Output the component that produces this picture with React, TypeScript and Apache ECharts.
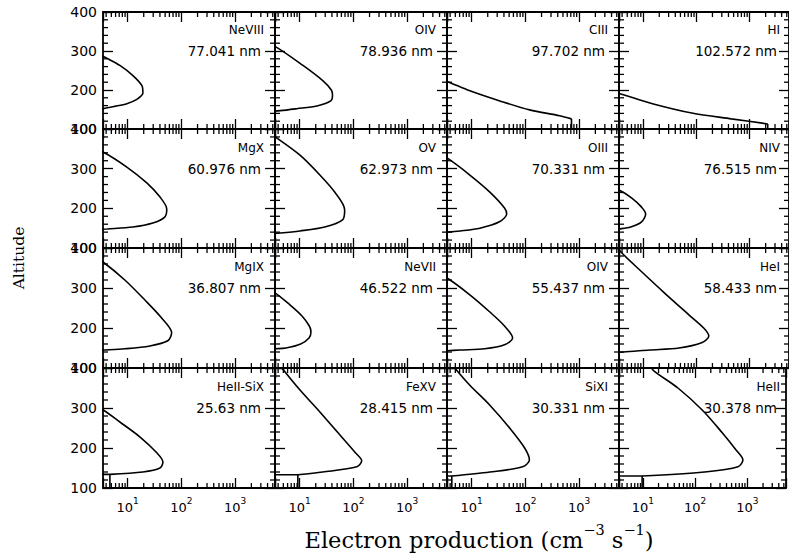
import React, { useEffect, useRef } from 'react';
import * as echarts from 'echarts';

// ---------- data ----------
const ionNames = [
  'NeVIII', 'OIV', 'CIII', 'HI',
  'MgX', 'OV', 'OIII', 'NIV',
  'MgIX', 'NeVII', 'OIV', 'HeI',
  'HeII-SiX', 'FeXV', 'SiXI', 'HeII',
];
const wavelengths = [
  '77.041 nm', '78.936 nm', '97.702 nm', '102.572 nm',
  '60.976 nm', '62.973 nm', '70.331 nm', '76.515 nm',
  '36.807 nm', '46.522 nm', '55.437 nm', '58.433 nm',
  '25.63 nm', '28.415 nm', '30.331 nm', '30.378 nm',
];

// [electron production, altitude] (top to bottom)
const neVIII_77041 = [[2.5, 289], [3.5, 286], [4.2, 281], [7.2, 263], [12.6, 237], [18.5, 211], [19.3, 192], [14.9, 176], [9.7, 165], [5.8, 158], [3.5, 152], [2.5, 150]];
const oIV_78936 = [[2.5, 316], [3.5, 312], [11.6, 263], [27, 224], [39, 200], [41, 187], [38, 172], [21, 159], [8.9, 152], [4.4, 147], [2.5, 145]];
const cIII_97702 = [[2.5, 228], [3.5, 222], [9.3, 198], [33.6, 172], [120, 149], [434, 134], [720, 126]];
const hI_102572 = [[2.5, 195], [3.5, 191], [14.9, 165], [82, 141], [452, 126], [2190, 113]];
const mgX_60976 = [[2.5, 346], [3.5, 342], [9.7, 304], [22.8, 264], [39.8, 229], [53.6, 198], [49, 178], [29.5, 163], [12.6, 153], [4.2, 148], [2.5, 146]];
const oV_62973 = [[2.5, 392], [3.8, 377], [10.2, 334], [23.9, 284], [45, 241], [69, 196], [63, 171], [29.4, 153], [10.2, 143], [4.4, 138], [2.5, 136]];
const oIII_70331 = [[2.5, 335], [3.5, 327], [9.3, 284], [21.9, 241], [41, 201], [45, 186], [33, 166], [14.3, 150], [6.1, 143], [3.5, 140], [2.5, 139]];
const nIV_76515 = [[2.5, 252], [3.5, 246], [6.1, 226], [9.3, 203], [11.1, 186], [9.3, 166], [5.8, 153], [3.5, 148], [2.5, 146]];
const mgIX_36807 = [[2.5, 375], [3.5, 365], [8.9, 320], [21, 270], [43, 225], [66, 188], [56, 168], [26, 155], [8.9, 148], [3.5, 145], [2.5, 144]];
const neVII_46522 = [[2.5, 295], [3.5, 288], [6.6, 258], [11.1, 230], [15.2, 205], [16.3, 190], [15, 175], [10.5, 160], [5.6, 150], [3.5, 148], [2.5, 147]];
const oIV_55437 = [[2.5, 330], [3.5, 325], [9.3, 283], [21.9, 240], [41, 205], [58, 175], [41, 158], [17.6, 148], [6.1, 145], [3.5, 143], [2.5, 142]];
const heI_58433 = [[3.2, 405], [3.8, 390], [8.6, 345], [24.9, 288], [72, 233], [137, 200], [171, 180], [125, 163], [47, 150], [13.2, 145], [4.2, 140], [2.5, 139]];
const heIISiX_2563 = [[2.5, 300], [3.5, 295], [7.2, 265], [16.9, 228], [35, 188], [45.5, 165], [40, 150], [19.3, 140], [4.7, 134]];
const feXV_28415 = [[4.5, 405], [4.9, 397], [10.2, 345], [23.9, 290], [55.8, 233], [106, 190], [143, 168], [116, 153], [27, 140], [9.3, 133]];
const siXI_30331 = [[4.7, 405], [5.1, 397], [9.3, 357], [21.9, 307], [51, 250], [97, 200], [119, 170], [88.6, 153], [21.9, 140], [4.3, 130]];
const heII_30378 = [[14, 405], [16.2, 393], [47, 350], [137, 295], [322, 240], [609, 195], [823, 170], [663, 153], [150, 140], [9.7, 130]];

// low-altitude floor segments seen in some panels
const cIII_floor = [[720, 126], [720, 95]];
const hI_floor = [[2190, 113], [2190, 95]];
const heIISiX_floor = [[2, 134], [4.7, 134], [4.7, 95]];
const feXV_floor = [[2, 133], [9.3, 133], [9.3, 95]];
const siXI_floor = [[2, 130], [4.3, 130], [4.3, 95]];
const heII_floor = [[2, 130], [9.7, 130], [9.7, 95]];

const profiles = [
  neVIII_77041, oIV_78936, cIII_97702, hI_102572,
  mgX_60976, oV_62973, oIII_70331, nIV_76515,
  mgIX_36807, neVII_46522, oIV_55437, heI_58433,
  heIISiX_2563, feXV_28415, siXI_30331, heII_30378,
];
const floors: (number[][] | null)[] = [
  null, null, cIII_floor, hI_floor,
  null, null, null, null,
  null, null, null, null,
  heIISiX_floor, feXV_floor, siXI_floor, heII_floor,
];

const X_MIN = 3.5;
const X_MAX = 5500;
const ALT_MIN = 100;
const ALT_MAX = 400;
const ALT_STEP = 100;
const ALT_MINOR_STEP = 20;
const minorMultipliers = [2, 3, 4, 5, 6, 7, 8, 9];
const decades = [1, 10, 100, 1000];

// ---------- layout ----------
const colLefts = [103, 275, 447, 619];
const colWidth = 172;
const rowTops = [12, 129, 248, 368];
const rowHeights = [117, 119, 120, 120];
const MAJOR_LEN = 10;
const MINOR_LEN = 5;

const xMinorTicks: number[] = [];
decades.forEach((d) => minorMultipliers.forEach((m) => {
  const v = d * m;
  if (v > X_MIN && v < X_MAX) xMinorTicks.push(v);
}));
const yMinorTicks: number[] = [];
for (let a = ALT_MIN + ALT_MINOR_STEP; a < ALT_MAX; a += ALT_MINOR_STEP) {
  if (a % ALT_STEP !== 0) yMinorTicks.push(a);
}

const black = '#000';
const axisLineStyle = { color: black, width: 1.8 };
const tickLineStyle = { color: black, width: 1.3 };

function buildOption() {
  const grid: any[] = [];
  const xAxis: any[] = [];
  const yAxis: any[] = [];
  const series: any[] = [];
  const graphic: any[] = [];
  const st = { stroke: black, lineWidth: 1.3 };

  const renderXMinorTick = (params: any, api: any) => {
    const p = api.coord([api.value(0), 250]);
    const cs = params.coordSys;
    const x = p[0];
    return {
      type: 'group',
      children: [
        { type: 'line', shape: { x1: x, y1: cs.y + cs.height, x2: x, y2: cs.y + cs.height - MINOR_LEN }, style: st },
        { type: 'line', shape: { x1: x, y1: cs.y, x2: x, y2: cs.y + MINOR_LEN }, style: st },
      ],
    };
  };
  const renderYMinorTick = (params: any, api: any) => {
    const p = api.coord([100, api.value(1)]);
    const cs = params.coordSys;
    const y = p[1];
    return {
      type: 'group',
      children: [
        { type: 'line', shape: { x1: cs.x, y1: y, x2: cs.x + MINOR_LEN, y2: y }, style: st },
        { type: 'line', shape: { x1: cs.x + cs.width, y1: y, x2: cs.x + cs.width - MINOR_LEN, y2: y }, style: st },
      ],
    };
  };

  for (let r = 0; r < 4; r++) {
    for (let c = 0; c < 4; c++) {
      const i = r * 4 + c;
      grid.push({ left: colLefts[c], top: rowTops[r], width: colWidth, height: rowHeights[r] });
      const xb = xAxis.length;
      const baseX = {
        type: 'log', logBase: 10, gridIndex: i, min: X_MIN, max: X_MAX,
        axisLine: { show: true, onZero: false, lineStyle: axisLineStyle },
        axisTick: { show: true, inside: true, length: MAJOR_LEN, lineStyle: tickLineStyle },
        splitLine: { show: false },
      };
      xAxis.push({
        ...baseX, position: 'bottom',
        axisLabel: r === 3 ? {
          show: true, margin: 8, color: black, fontFamily: 'DejaVu Sans', fontSize: 13,
          formatter: (v: number) => {
            const e = Math.log10(v);
            const n = Math.round(e);
            return Math.abs(e - n) < 1e-6 ? `{b|10}{s|${n}}` : '';
          },
          rich: {
            b: { fontFamily: 'DejaVu Sans', fontSize: 13, color: black, lineHeight: 18, verticalAlign: 'bottom' },
            s: { fontFamily: 'DejaVu Sans', fontSize: 9, color: black, verticalAlign: 'top' },
          },
        } : { show: false },
      });
      xAxis.push({ ...baseX, position: 'top', axisLabel: { show: false } });

      const yb = yAxis.length;
      const baseY = {
        type: 'value', gridIndex: i, min: ALT_MIN, max: ALT_MAX, interval: ALT_STEP,
        axisLine: { show: true, onZero: false, lineStyle: axisLineStyle },
        axisTick: { show: true, inside: true, length: MAJOR_LEN, lineStyle: tickLineStyle },
        minorTick: { show: false },
        splitLine: { show: false },
      };
      yAxis.push({
        ...baseY, position: 'left',
        axisLabel: c === 0 ? { show: true, margin: 6, color: black, fontFamily: 'DejaVu Sans', fontSize: 14 } : { show: false },
      });
      yAxis.push({ ...baseY, position: 'right', axisLabel: { show: false } });

      series.push({
        type: 'line', xAxisIndex: xb, yAxisIndex: yb, data: profiles[i],
        symbol: 'none', smooth: 0.3, clip: true, silent: true,
        lineStyle: { color: black, width: 1.6 },
      });
      const fl = floors[i];
      if (fl) {
        series.push({
          type: 'line', xAxisIndex: xb, yAxisIndex: yb, data: fl,
          symbol: 'none', smooth: false, clip: true, silent: true,
          lineStyle: { color: black, width: 1.6 },
        });
      }
      series.push({
        type: 'custom', xAxisIndex: xb, yAxisIndex: yb, silent: true,
        data: xMinorTicks.map((v) => [v, 250]), encode: { x: 0, y: 1 },
        renderItem: renderXMinorTick,
      });
      series.push({
        type: 'custom', xAxisIndex: xb, yAxisIndex: yb, silent: true,
        data: yMinorTicks.map((a) => [100, a]), encode: { x: 0, y: 1 },
        renderItem: renderYMinorTick,
      });

      const right = colLefts[c] + colWidth;
      const y300 = rowTops[r] + rowHeights[r] * (ALT_MAX - 300) / (ALT_MAX - ALT_MIN);
      graphic.push({
        type: 'text', x: right - 11, y: y300 - 21, z: 10,
        style: { text: ionNames[i], fill: black, fontFamily: 'DejaVu Sans', fontSize: 12, align: 'right', verticalAlign: 'middle' },
      });
      graphic.push({
        type: 'text', x: right - 14, y: y300, z: 10,
        style: { text: wavelengths[i], fill: black, fontFamily: 'DejaVu Sans', fontSize: 13.5, align: 'right', verticalAlign: 'middle' },
      });
    }
  }

  graphic.push({
    type: 'text', x: 19, y: 258, rotation: Math.PI / 2,
    style: { text: 'Altitude', fill: black, fontFamily: 'DejaVu Serif', fontSize: 15.5, align: 'center', verticalAlign: 'middle' },
  });
  graphic.push({
    type: 'text', x: 479, y: 537,
    style: {
      text: '{m|Electron production (cm}{s|−3}{m| s}{s|−1}{m|)}',
      fill: black, fontFamily: 'DejaVu Serif', fontSize: 22.5,
      align: 'center', verticalAlign: 'middle',
      rich: {
        m: { fontFamily: 'DejaVu Serif', fontSize: 22.5, fill: black, lineHeight: 29, verticalAlign: 'bottom' },
        s: { fontFamily: 'DejaVu Serif', fontSize: 14.5, fill: black, verticalAlign: 'top' },
      },
    },
  });

  return {
    animation: false,
    backgroundColor: '#fff',
    grid, xAxis, yAxis, series, graphic,
  };
}

export default function App() {
  const ref = useRef<HTMLDivElement>(null);
  useEffect(() => {
    if (!ref.current) return;
    const chart = echarts.init(ref.current, undefined, { renderer: 'svg' });
    chart.setOption(buildOption() as any);
    return () => chart.dispose();
  }, []);
  return (
    <div
      ref={ref}
      style={{ position: 'fixed', left: 0, top: 0, width: 789, height: 554, background: '#fff' }}
    />
  );
}
